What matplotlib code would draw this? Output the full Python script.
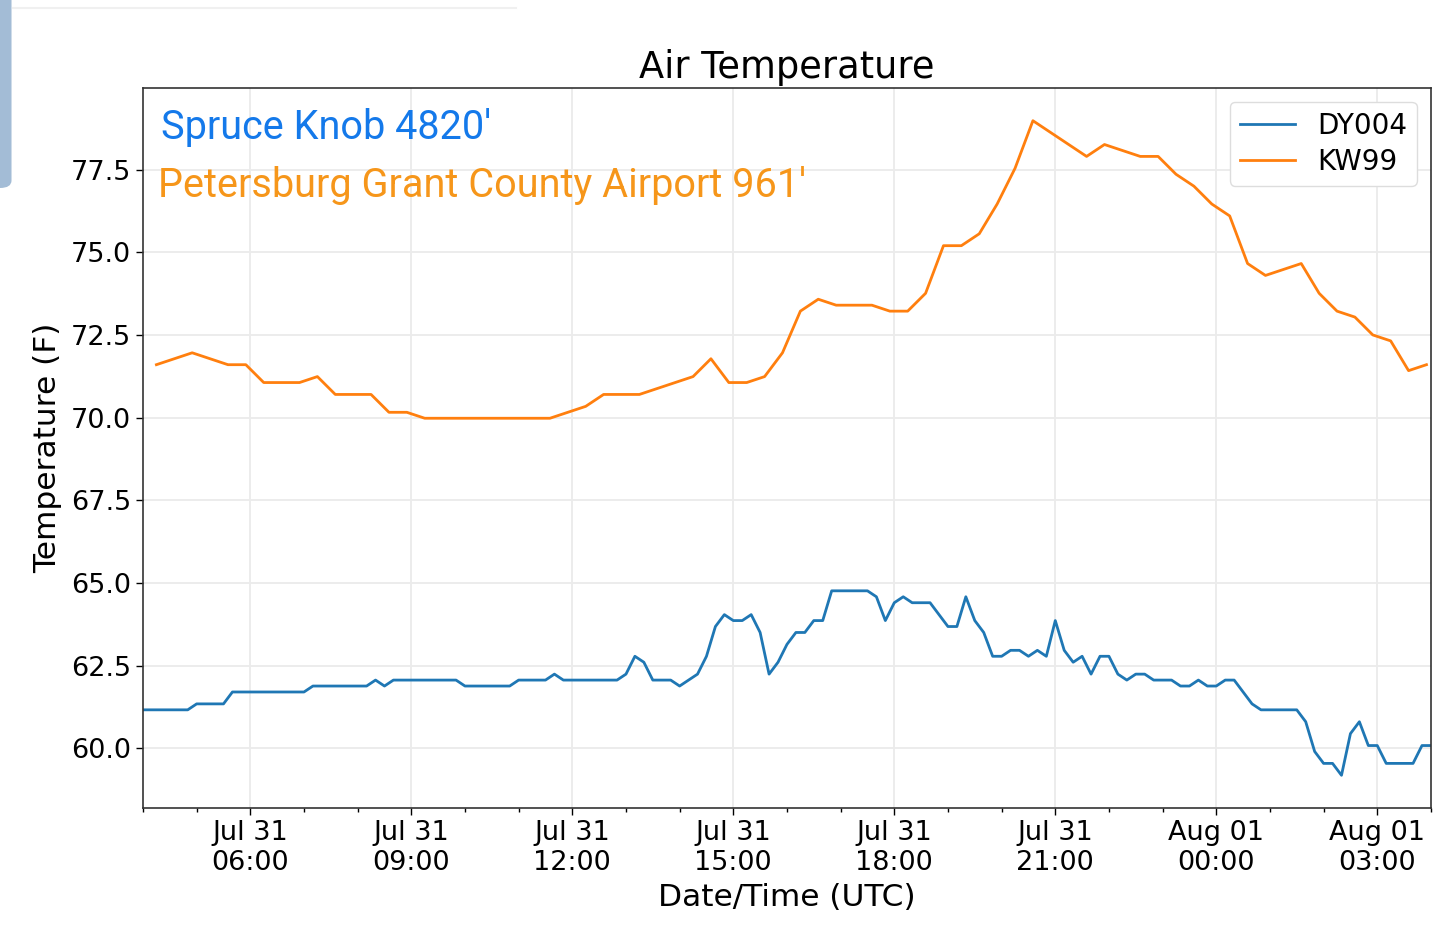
import numpy as np
import pandas as pd
import matplotlib
matplotlib.use('Agg')
import matplotlib.pyplot as plt
import matplotlib.dates as mdates
from matplotlib.patches import FancyBboxPatch
from matplotlib.lines import Line2D

# DY004 (Spruce Knob), 10 minute readings from Jul 31 04:00 UTC
dy004_start = '2020-07-31 04:00'
dy004_temp = [
    61.16, 61.16, 61.16, 61.16, 61.16, 61.16, 61.34, 61.34, 61.34, 61.34,
    61.70, 61.70, 61.70, 61.70, 61.70, 61.70, 61.70, 61.70, 61.70, 61.88,
    61.88, 61.88, 61.88, 61.88, 61.88, 61.88, 62.06, 61.88, 62.06, 62.06,
    62.06, 62.06, 62.06, 62.06, 62.06, 62.06, 61.88, 61.88, 61.88, 61.88,
    61.88, 61.88, 62.06, 62.06, 62.06, 62.06, 62.24, 62.06, 62.06, 62.06,
    62.06, 62.06, 62.06, 62.06, 62.24, 62.78, 62.60, 62.06, 62.06, 62.06,
    61.88, 62.06, 62.24, 62.78, 63.68, 64.04, 63.86, 63.86, 64.04, 63.50,
    62.24, 62.60, 63.14, 63.50, 63.50, 63.86, 63.86, 64.76, 64.76, 64.76,
    64.76, 64.76, 64.58, 63.86, 64.40, 64.58, 64.40, 64.40, 64.40, 64.04,
    63.68, 63.68, 64.58, 63.86, 63.50, 62.78, 62.78, 62.96, 62.96, 62.78,
    62.96, 62.78, 63.86, 62.96, 62.60, 62.78, 62.24, 62.78, 62.78, 62.24,
    62.06, 62.24, 62.24, 62.06, 62.06, 62.06, 61.88, 61.88, 62.06, 61.88,
    61.88, 62.06, 62.06, 61.70, 61.34, 61.16, 61.16, 61.16, 61.16, 61.16,
    60.80, 59.90, 59.54, 59.54, 59.18, 60.44, 60.80, 60.08, 60.08, 59.54,
    59.54, 59.54, 59.54, 60.08, 60.08,
]

# KW99 (Petersburg airport), 20 minute readings from Jul 31 04:15 UTC
kw99_start = '2020-07-31 04:15'
kw99_temp = [
    71.60, 71.78, 71.96, 71.78, 71.60, 71.60, 71.06, 71.06, 71.06, 71.24,
    70.70, 70.70, 70.70, 70.16, 70.16, 69.98, 69.98, 69.98, 69.98, 69.98,
    69.98, 69.98, 69.98, 70.16, 70.34, 70.70, 70.70, 70.70, 70.88, 71.06,
    71.24, 71.78, 71.06, 71.06, 71.24, 71.96, 73.22, 73.58, 73.40, 73.40,
    73.40, 73.22, 73.22, 73.76, 75.20, 75.20, 75.56, 76.46, 77.54, 78.98,
    78.62, 78.26, 77.90, 78.26, 78.08, 77.90, 77.90, 77.36, 77.00, 76.46,
    76.10, 74.66, 74.30, 74.48, 74.66, 73.76, 73.22, 73.04, 72.50, 72.32,
    71.42, 71.60,
]

dy004_time = pd.date_range(dy004_start, periods=len(dy004_temp), freq='10min')
kw99_time = pd.date_range(kw99_start, periods=len(kw99_temp), freq='20min')

fig = plt.figure(figsize=(14.4, 9.4), dpi=100)
ax = fig.add_axes([0.0993, 0.1404, 0.8944, 0.766])

ax.plot(dy004_time, dy004_temp, color='#1f77b4', lw=2.0, label='DY004')
ax.plot(kw99_time, kw99_temp, color='#ff7f0e', lw=2.0, label='KW99')
ax.margins(x=0, y=0.05)

ax.xaxis.set_major_locator(mdates.HourLocator(byhour=range(0, 24, 3)))
ax.xaxis.set_minor_locator(mdates.HourLocator())
ax.xaxis.set_major_formatter(mdates.DateFormatter('%b %d\n%H:%M'))
ax.set_yticks(np.arange(60, 78, 2.5))
ax.yaxis.set_major_formatter(plt.FormatStrFormatter('%.1f'))

ax.grid(True, color='#ebebeb', lw=1.3)
ax.set_axisbelow(True)
ax.tick_params(axis='both', which='major', labelsize=19.5, length=5, width=1)
ax.tick_params(axis='x', which='minor', length=3, width=1)
for s in ax.spines.values():
    s.set_color('#333333')
    s.set_linewidth(1.2)

ax.set_title('Air Temperature', fontsize=26.5, pad=7)
ax.set_xlabel('Date/Time (UTC)', fontsize=22.5, labelpad=5)
ax.set_ylabel('Temperature (F)', fontsize=22.5, labelpad=6)

leg = ax.legend(loc='upper right', fontsize=20, handlelength=2.0,
                framealpha=1, edgecolor='#dddddd', borderpad=0.35,
                labelspacing=0.3, borderaxespad=0.5)

ax.text(0.014, 0.972, "Spruce Knob 4820'", transform=ax.transAxes,
        fontsize=28.5, family='Roboto', color='#1479ea', va='top')
ax.text(0.012, 0.891, "Petersburg Grant County Airport 961'", transform=ax.transAxes,
        fontsize=28.5, family='Roboto', color='#f6961a', va='top')

# screenshot edges left in the reference
fig.patches.append(FancyBboxPatch((-0.02, 0.80), 0.028, 0.21, transform=fig.transFigure,
                                  boxstyle='round,pad=0,rounding_size=0.008',
                                  facecolor='#a3bcd6', edgecolor='none'))
fig.lines.append(Line2D([0.009, 0.358], [0.991, 0.991], transform=fig.transFigure,
                        color='#f0f0f0', lw=1.5))

fig.savefig('out.png', dpi=100)
